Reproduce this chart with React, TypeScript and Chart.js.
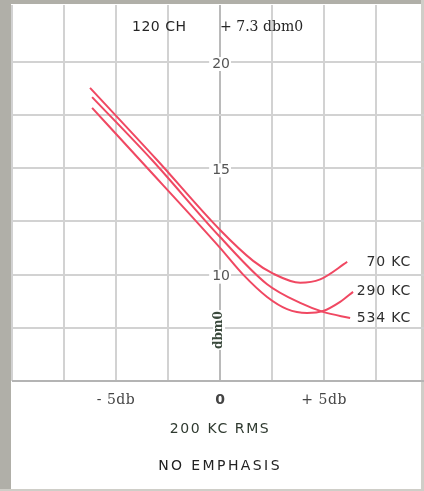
import { useEffect, useRef } from 'react';
import { Chart, registerables } from 'chart.js';

Chart.register(...registerables);

// ---- data ----
const seriesNames = ['70 KC', '534 KC', '290 KC'];
const kc70X = [-6.25, -3.03, 0, 1.59, 2.55, 3.85, 4.81, 6.11];
const kc70Y = [18.78, 15.39, 12.1, 10.65, 10.05, 9.62, 9.78, 10.6];
const kc534X = [-6.15, -3.27, 0, 2.26, 3.85, 4.95, 6.25];
const kc534Y = [18.35, 15.39, 11.77, 9.55, 8.67, 8.25, 7.96];
const kc290X = [-6.15, -3.85, 0, 1.11, 2.26, 3.22, 4.18, 4.95, 5.77, 6.39];
const kc290Y = [17.84, 15.39, 11.26, 10.0, 8.95, 8.38, 8.2, 8.29, 8.72, 9.19];

const xGrid = [-10, -7.5, -5, -2.5, 0, 2.5, 5, 7.5];
const yGrid = [5, 7.5, 10, 12.5, 15, 17.5, 20];
const yTickValues = [10, 15, 20];
const xTickValues = [-5, 0, 5];
const xTickLabels = ['- 5db', '0', '+ 5db'];
const titleLeft = '120 CH';
const titleRight = '+ 7.3 dbm0';
const axisUnit = 'dbm0';
const xTitle = '200 KC RMS';
const footer = 'NO EMPHASIS';

const W = 424;
const H = 491;
const RED = '#f04862';

const toPoints = (xs: number[], ys: number[]) => xs.map((x, i) => ({ x, y: ys[i] }));

const annotate = {
  id: 'annotate',
  beforeDraw(chart: any) {
    const ctx = chart.ctx;
    ctx.save();
    ctx.fillStyle = '#ffffff';
    ctx.fillRect(0, 0, W, H);
    ctx.fillStyle = '#b0afa8';
    ctx.fillRect(0, 0, 11, H);
    ctx.fillRect(0, 0, W, 4);
    ctx.fillStyle = '#cfcec8';
    ctx.fillRect(W - 3, 0, 3, H);
    ctx.fillRect(0, H - 2, W, 2);
    ctx.restore();
  },
  afterDraw(chart: any) {
    const ctx = chart.ctx;
    const xs = chart.scales.x;
    const ys = chart.scales.y;
    const cx = xs.getPixelForValue(0);
    ctx.save();
    ctx.textBaseline = 'middle';

    // top titles
    ctx.fillStyle = '#262626';
    ctx.font = '14px "DejaVu Sans"';
    ctx.textAlign = 'left';
    (ctx as any).letterSpacing = '0.5px';
    ctx.fillText(titleLeft, 132, 27);
    ctx.font = '14px "DejaVu Serif"';
    (ctx as any).letterSpacing = '0px';
    ctx.fillText(titleRight, cx, 27);

    // y tick labels in the centre
    ctx.font = '14px "DejaVu Sans"';
    ctx.textAlign = 'center';
    yTickValues.forEach((v) => {
      const py = ys.getPixelForValue(v) + 2;
      const tw = ctx.measureText(String(v)).width;
      ctx.fillStyle = '#ffffff';
      ctx.fillRect(cx - tw / 2 - 2, py - 7, tw + 4, 14);
      ctx.fillStyle = '#555555';
      ctx.fillText(String(v), cx + 1, py);
    });

    // vertical unit label
    ctx.save();
    ctx.translate(cx - 1, 330);
    ctx.rotate(-Math.PI / 2);
    ctx.font = 'bold 12px "DejaVu Serif"';
    const uw = ctx.measureText(axisUnit).width;
    ctx.fillStyle = '#ffffff';
    ctx.fillRect(-uw / 2 - 1, -6, uw + 2, 12);
    ctx.fillStyle = '#3b4a3d';
    ctx.fillText(axisUnit, 0, 0);
    ctx.restore();

    // x tick labels
    xTickValues.forEach((v, i) => {
      const px = xs.getPixelForValue(v);
      if (v === 0) {
        ctx.font = 'bold 14px "DejaVu Sans"';
        (ctx as any).letterSpacing = '0px';
      } else {
        ctx.font = '14px "DejaVu Serif"';
        (ctx as any).letterSpacing = '0.5px';
      }
      ctx.fillStyle = '#444444';
      ctx.fillText(xTickLabels[i], px, 400);
    });

    // axis title and footer
    ctx.font = '14px "DejaVu Sans"';
    ctx.fillStyle = '#2f3a30';
    (ctx as any).letterSpacing = '1.6px';
    ctx.fillText(xTitle, cx, 429);
    ctx.fillStyle = '#222222';
    (ctx as any).letterSpacing = '2.4px';
    ctx.fillText(footer, cx, 466);

    // curve labels
    ctx.textAlign = 'right';
    ctx.font = '14px "DejaVu Sans"';
    (ctx as any).letterSpacing = '0.8px';
    ctx.fillStyle = '#2e2e2e';
    const labelY = [262, 318, 291];
    seriesNames.forEach((n, i) => ctx.fillText(n, 411, labelY[i]));
    ctx.restore();
  },
};

export default function App() {
  const ref = useRef<HTMLCanvasElement | null>(null);
  useEffect(() => {
    if (!ref.current) return;
    const ds = (xs: number[], ys: number[], label: string) => ({
      label,
      data: toPoints(xs, ys),
      borderColor: RED,
      borderWidth: 2,
      pointRadius: 0,
      fill: false,
      cubicInterpolationMode: 'monotone',
    });
    const chart = new Chart(ref.current, {
      type: 'line',
      data: {
        datasets: [
          ds(kc70X, kc70Y, seriesNames[0]),
          ds(kc534X, kc534Y, seriesNames[1]),
          ds(kc290X, kc290Y, seriesNames[2]),
        ],
      },
      options: {
        responsive: false,
        animation: false,
        devicePixelRatio: 1,
        layout: { padding: { left: 12, top: 5, right: 0, bottom: 110 } },
        plugins: { legend: { display: false }, tooltip: { enabled: false } },
        scales: {
          x: {
            type: 'linear',
            min: -10,
            max: 9.8,
            afterBuildTicks: (s: any) => {
              s.ticks = xGrid.map((v) => ({ value: v }));
            },
            ticks: { display: false },
            grid: {
              color: (c: any) => (c.tick && c.tick.value === 0 ? '#bababa' : '#d2d2d2'),
              lineWidth: 2,
              drawTicks: false,
            },
            border: { display: false },
          },
          y: {
            type: 'linear',
            min: 5,
            max: 22.68,
            afterBuildTicks: (s: any) => {
              s.ticks = yGrid.map((v) => ({ value: v }));
            },
            ticks: { display: false },
            grid: {
              color: (c: any) => (c.tick && c.tick.value === 5 ? '#b4b4b4' : '#d2d2d2'),
              lineWidth: 2,
              drawTicks: false,
            },
            border: { display: false },
          },
        },
      } as any,
      plugins: [annotate],
    });
    return () => chart.destroy();
  }, []);
  return (
    <div style={{ position: 'absolute', left: 0, top: 0, width: W, height: H }}>
      <canvas ref={ref} width={W} height={H} style={{ display: 'block', width: W, height: H }} />
    </div>
  );
}
